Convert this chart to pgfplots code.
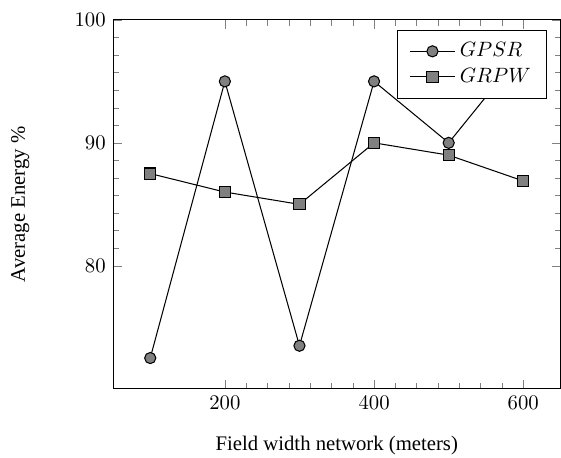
\documentclass[border=0pt]{standalone}
\usepackage{fontspec}
\setmainfont{Liberation Serif}
\usepackage{pgfplots}
\pgfplotsset{compat=1.18}
\begin{document}
\begin{tikzpicture}
\begin{axis}[
  scale only axis,
  width=216pt, height=178pt,
  xmin=50, xmax=650, ymin=70, ymax=100,
  xtick={200,400,600}, ytick={80,90,100},
  minor x tick num=6, minor y tick num=6,
  xlabel={Field width network (meters)},
  ylabel={Average Energy \%},
  xlabel style={at={(axis description cs:0.5,-0.1545)}, anchor=center, inner sep=1pt},
  ylabel style={at={(axis description cs:-0.207,0.5)}, anchor=center},
  legend style={at={(0.969,0.973)}, anchor=north east, inner xsep=5.5pt, inner ysep=4pt},
  legend image code/.code={\draw[#1] (0pt,0pt) -- (22pt,0pt); \draw[#1, only marks] plot coordinates {(11pt,0pt)};},
  legend cell align=left,
]
\addplot[black, line width=0.5pt, mark=*, mark size=2.7pt, mark options={fill=gray, draw=black}] coordinates {(100,72.5) (200,95) (300,73.5) (400,95) (500,90) (600,97.5)};
\addlegendentry{$GPSR$}
\addplot[black, line width=0.5pt, mark=square*, mark size=2.7pt, mark options={fill=gray, draw=black}] coordinates {(100,87.5) (200,86) (300,85) (400,90) (500,89) (600,86.9)};
\addlegendentry{$GRPW$}
\end{axis}
\path (current axis.south west) ++(-54.5pt,-33.3pt);
\path (current axis.north west) ++(0pt,9.6pt);
\end{tikzpicture}
\end{document}
